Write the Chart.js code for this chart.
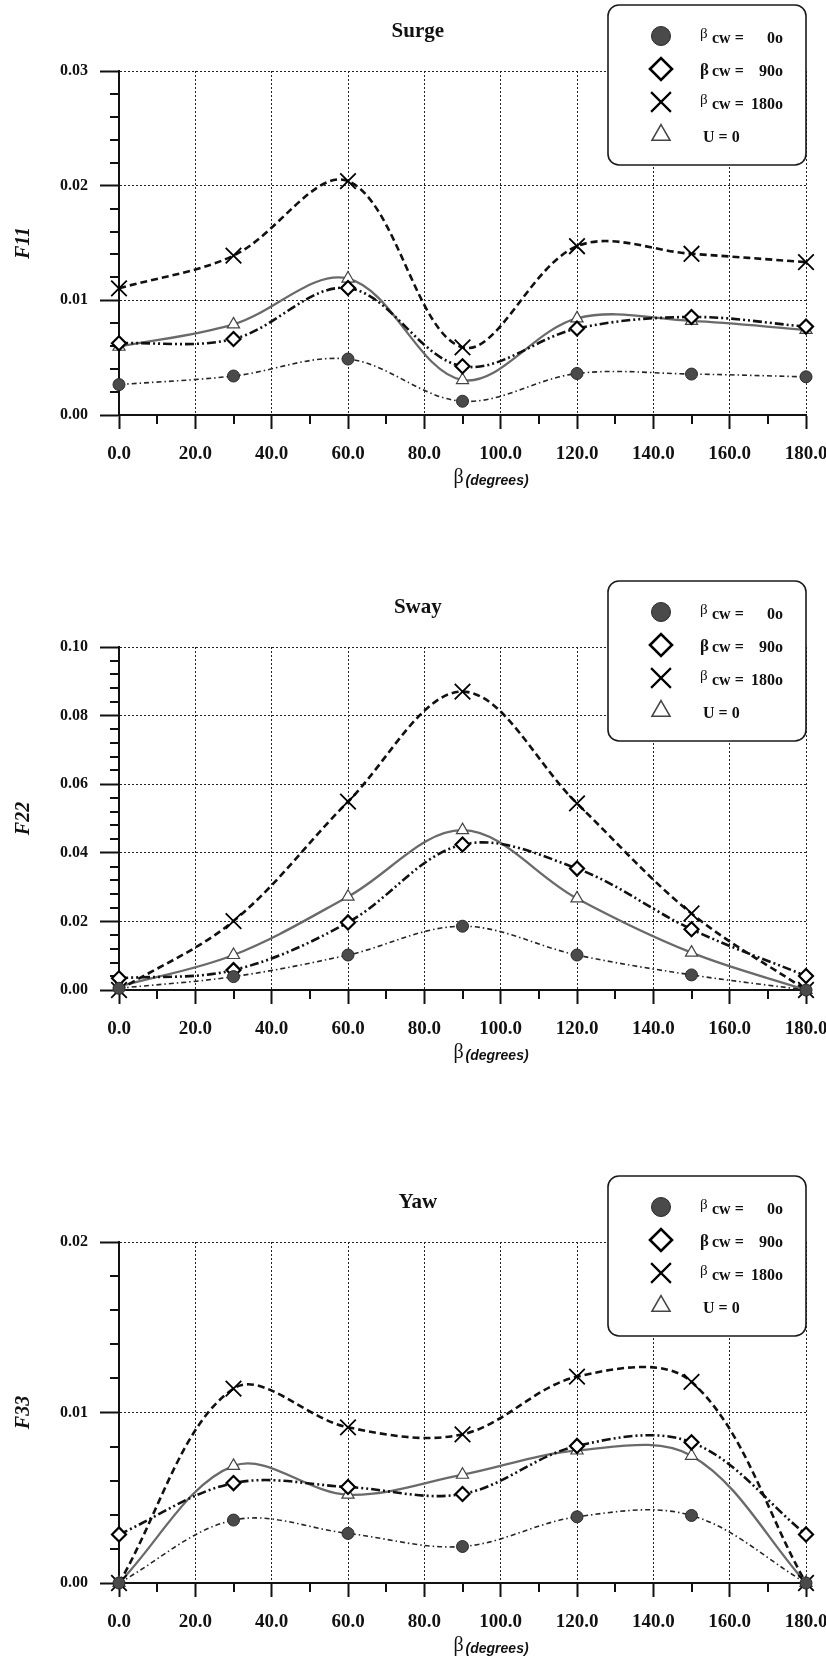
<!DOCTYPE html>
<html>
<head>
<meta charset="utf-8">
<script src="https://cdn.jsdelivr.net/npm/chart.js@4.4.1/dist/chart.umd.min.js"></script>
<style>
html, body { margin: 0; padding: 0; background: #ffffff; }
canvas { display: block; }
</style>
</head>
<body>
<canvas id="c1" width="826" height="553"></canvas>
<canvas id="c2" width="826" height="553"></canvas>
<canvas id="c3" width="826" height="553"></canvas>
<script>
// ---------------- data ----------------
const angles = [0, 30, 60, 90, 120, 150, 180];
const seriesLabels = ['βcw = 0o', 'βcw = 90o', 'βcw = 180o', 'U = 0'];

const surgeCw0   = [0.00265, 0.00340, 0.00488, 0.00120, 0.00362, 0.00357, 0.00333];
const surgeCw90  = [0.00625, 0.00663, 0.01107, 0.00425, 0.00754, 0.00855, 0.00771];
const surgeCw180 = [0.01105, 0.01390, 0.02040, 0.00590, 0.01472, 0.01406, 0.01333];
const surgeU0    = [0.00595, 0.00790, 0.01190, 0.00305, 0.00843, 0.00820, 0.00742];

const swayCw0   = [0.0005, 0.0039, 0.0102, 0.0186, 0.0102, 0.0044, 0.0000];
const swayCw90  = [0.0034, 0.0058, 0.0197, 0.0424, 0.0354, 0.0177, 0.0041];
const swayCw180 = [0.0000, 0.0201, 0.0549, 0.0870, 0.0544, 0.0223, 0.0000];
const swayU0    = [0.0010, 0.0102, 0.0272, 0.0466, 0.0267, 0.0109, 0.0000];

const yawCw0   = [0.0000, 0.00369, 0.00291, 0.00214, 0.00388, 0.00396, 0.0000];
const yawCw90  = [0.00285, 0.00586, 0.00563, 0.00522, 0.00804, 0.00825, 0.00285];
const yawCw180 = [0.0000, 0.01140, 0.00913, 0.00872, 0.01210, 0.01180, 0.0000];
const yawU0    = [0.0000, 0.00687, 0.00518, 0.00635, 0.00777, 0.00746, 0.0000];

const xTicks      = [0, 20, 40, 60, 80, 100, 120, 140, 160, 180];
const xMinorTicks = [10, 30, 50, 70, 90, 110, 130, 150, 170];

const surgeYTicks = [0.00, 0.01, 0.02, 0.03];
const surgeYMinor = [0.002, 0.004, 0.006, 0.008, 0.012, 0.014, 0.016, 0.018, 0.022, 0.024, 0.026, 0.028];
const swayYTicks  = [0.00, 0.02, 0.04, 0.06, 0.08, 0.10];
const swayYMinor  = [0.004, 0.008, 0.012, 0.016, 0.024, 0.028, 0.032, 0.036, 0.044, 0.048, 0.052, 0.056,
                     0.064, 0.068, 0.072, 0.076, 0.084, 0.088, 0.092, 0.096];
const yawYTicks   = [0.00, 0.01, 0.02];
const yawYMinor   = [0.002, 0.004, 0.006, 0.008, 0.012, 0.014, 0.016, 0.018];

// ---------------- plugins ----------------
const SERIF = '"Liberation Serif", "Times New Roman", serif';
const SANS = '"Liberation Sans", Arial, sans-serif';

const figurePlugin = {
  id: 'figure',
  beforeDatasetsDraw(chart, args, opts) {
    const { ctx, chartArea: a, scales: { x, y } } = chart;
    ctx.save();
    ctx.strokeStyle = '#111';
    ctx.lineWidth = 2;
    ctx.beginPath();
    opts.xMinor.forEach(v => {
      const px = Math.round(x.getPixelForValue(v));
      ctx.moveTo(px, a.bottom);
      ctx.lineTo(px, a.bottom + 9);
    });
    opts.yMinor.forEach(v => {
      const py = Math.round(y.getPixelForValue(v));
      ctx.moveTo(a.left, py);
      ctx.lineTo(a.left - 9, py);
    });
    ctx.stroke();
    ctx.restore();
  },
  afterDraw(chart, args, opts) {
    const { ctx, chartArea: a } = chart;
    ctx.save();
    // title
    ctx.fillStyle = '#111';
    ctx.font = 'bold 21px ' + SERIF;
    ctx.textAlign = 'center';
    ctx.textBaseline = 'middle';
    ctx.fillText(opts.title, a.left + (a.right - a.left) * 0.435, a.top - 39);

    // x axis title: β (degrees)
    ctx.textAlign = 'left';
    ctx.textBaseline = 'alphabetic';
    const bx = a.left + (a.right - a.left) * 0.487;
    ctx.font = '20px ' + SERIF;
    ctx.fillText('β', bx, a.bottom + 68);
    ctx.font = 'italic bold 14px ' + SANS;
    ctx.fillText('(degrees)', bx + 12, a.bottom + 70);

    // legend box
    const w = 198, h = 160;
    const x0 = a.right - w, y0 = a.top - 66;
    ctx.beginPath();
    if (ctx.roundRect) ctx.roundRect(x0, y0, w, h, 11); else ctx.rect(x0, y0, w, h);
    ctx.fillStyle = '#ffffff';
    ctx.fill();
    ctx.lineWidth = 1.6;
    ctx.strokeStyle = '#1a1a1a';
    ctx.stroke();

    chart.data.datasets.forEach((ds, i) => {
      const cy = y0 + 31 + i * 33;
      const mx = x0 + 53;
      ctx.fillStyle = ds.pointBackgroundColor;
      ctx.strokeStyle = ds.pointBorderColor;
      ctx.lineWidth = ds.legendBorderWidth;
      ctx.setLineDash([]);
      Chart.helpers.drawPoint(ctx, {
        pointStyle: ds.pointStyle, radius: ds.legendRadius, rotation: 0, borderWidth: ds.legendBorderWidth
      }, mx, cy);

      ctx.fillStyle = '#111';
      ctx.textBaseline = 'alphabetic';
      const label = ds.label;
      if (label.startsWith('β')) {
        const parts = label.slice(1).split('=');
        ctx.textAlign = 'left';
        ctx.font = (i === 1 ? 'bold 17px ' : '15px ') + SERIF;
        ctx.fillText('β', x0 + 92, cy + (i === 1 ? 6 : 2));
        ctx.font = 'bold 16px ' + SERIF;
        ctx.fillText(parts[0].trim() + ' =', x0 + 104, cy + 7);
        ctx.textAlign = 'right';
        ctx.fillText(parts[1].trim(), x0 + 175, cy + 7);
      } else {
        ctx.textAlign = 'left';
        ctx.font = 'bold 16px ' + SERIF;
        ctx.fillText(label, x0 + 95, cy + 7);
      }
    });
    ctx.restore();
  }
};

// ---------------- chart factory ----------------
function series(values) {
  return angles.map((a, i) => ({ x: a, y: values[i] }));
}

function makeDatasets(v0, v90, v180, vU) {
  return [
    {
      label: seriesLabels[0], data: series(v0),
      borderColor: '#262626', borderWidth: 1.6, borderDash: [5, 3, 1.5, 3],
      pointStyle: 'circle', pointRadius: 6, pointBackgroundColor: '#4a4a4a',
      pointBorderColor: '#2a2a2a', pointBorderWidth: 1,
      legendRadius: 9.5, legendBorderWidth: 1
    },
    {
      label: seriesLabels[1], data: series(v90),
      borderColor: '#111', borderWidth: 2.6, borderDash: [9, 3, 2, 3, 2, 3],
      pointStyle: 'rectRot', pointRadius: 7, pointBackgroundColor: '#ffffff',
      pointBorderColor: '#000', pointBorderWidth: 2.2,
      legendRadius: 11, legendBorderWidth: 2.6
    },
    {
      label: seriesLabels[2], data: series(v180),
      borderColor: '#111', borderWidth: 2.6, borderDash: [7, 4],
      pointStyle: 'crossRot', pointRadius: 11, pointBackgroundColor: '#ffffff',
      pointBorderColor: '#000', pointBorderWidth: 1.8,
      legendRadius: 14, legendBorderWidth: 2.2
    },
    {
      label: seriesLabels[3], data: series(vU),
      borderColor: '#6a6a6a', borderWidth: 2.3, borderDash: [],
      pointStyle: 'triangle', pointRadius: 7, pointBackgroundColor: '#ffffff',
      pointBorderColor: '#444', pointBorderWidth: 1.2,
      legendRadius: 10.5, legendBorderWidth: 1.5
    }
  ];
}

function makeChart(id, cfg) {
  const H = 553;
  return new Chart(document.getElementById(id), {
    type: 'line',
    data: { datasets: makeDatasets(...cfg.values) },
    plugins: [figurePlugin],
    options: {
      responsive: false,
      devicePixelRatio: 1,
      animation: false,
      events: [],
      layout: { padding: { top: cfg.top, left: 0, right: 20, bottom: 0 } },
      datasets: { line: { tension: 0.35, clip: false, fill: false } },
      plugins: {
        legend: { display: false },
        tooltip: { enabled: false },
        title: { display: false },
        figure: { title: cfg.title, xMinor: xMinorTicks, yMinor: cfg.yMinor }
      },
      scales: {
        x: {
          type: 'linear', min: 0, max: 180,
          afterBuildTicks: s => { s.ticks = xTicks.map(v => ({ value: v })); },
          ticks: {
            callback: v => Number(v).toFixed(1),
            font: { family: SERIF, weight: 'bold', size: 19 },
            color: '#111', padding: 14, maxRotation: 0, autoSkip: false
          },
          grid: { color: '#222', lineWidth: 1, tickLength: 14, tickColor: '#111', tickWidth: 2 },
          border: { display: true, color: '#111', width: 2, dash: [2, 2] },
          afterFit: s => { s.height = H - cfg.bottom; s.paddingLeft = 0; s.paddingRight = 0; }
        },
        y: {
          type: 'linear', min: cfg.yMin, max: cfg.yMax,
          afterBuildTicks: s => { s.ticks = cfg.yTicks.map(v => ({ value: v })); },
          ticks: {
            callback: v => Number(v).toFixed(2),
            font: { family: SERIF, weight: 'bold', size: 16 },
            color: '#111', padding: 12, autoSkip: false
          },
          grid: { color: '#222', lineWidth: 1, tickLength: 19, tickColor: '#111', tickWidth: 2 },
          border: { display: true, color: '#111', width: 2, dash: [2, 2] },
          title: {
            display: true, text: cfg.yTitle, color: '#111',
            font: { family: SERIF, weight: 'bold', style: 'italic', size: 20 },
            padding: { top: 12, bottom: 0 }
          },
          afterFit: s => { s.width = 119; s.paddingTop = 0; s.paddingBottom = 0; }
        }
      }
    }
  });
}

makeChart('c1', { title: 'Surge', yTitle: 'F11', top: 71, bottom: 415,
  yMin: 0, yMax: 0.03, yTicks: surgeYTicks, yMinor: surgeYMinor,
  values: [surgeCw0, surgeCw90, surgeCw180, surgeU0] });
makeChart('c2', { title: 'Sway', yTitle: 'F22', top: 94, bottom: 437,
  yMin: 0, yMax: 0.10, yTicks: swayYTicks, yMinor: swayYMinor,
  values: [swayCw0, swayCw90, swayCw180, swayU0] });
makeChart('c3', { title: 'Yaw', yTitle: 'F33', top: 136, bottom: 477,
  yMin: 0, yMax: 0.02, yTicks: yawYTicks, yMinor: yawYMinor,
  values: [yawCw0, yawCw90, yawCw180, yawU0] });
</script>
</body>
</html>
